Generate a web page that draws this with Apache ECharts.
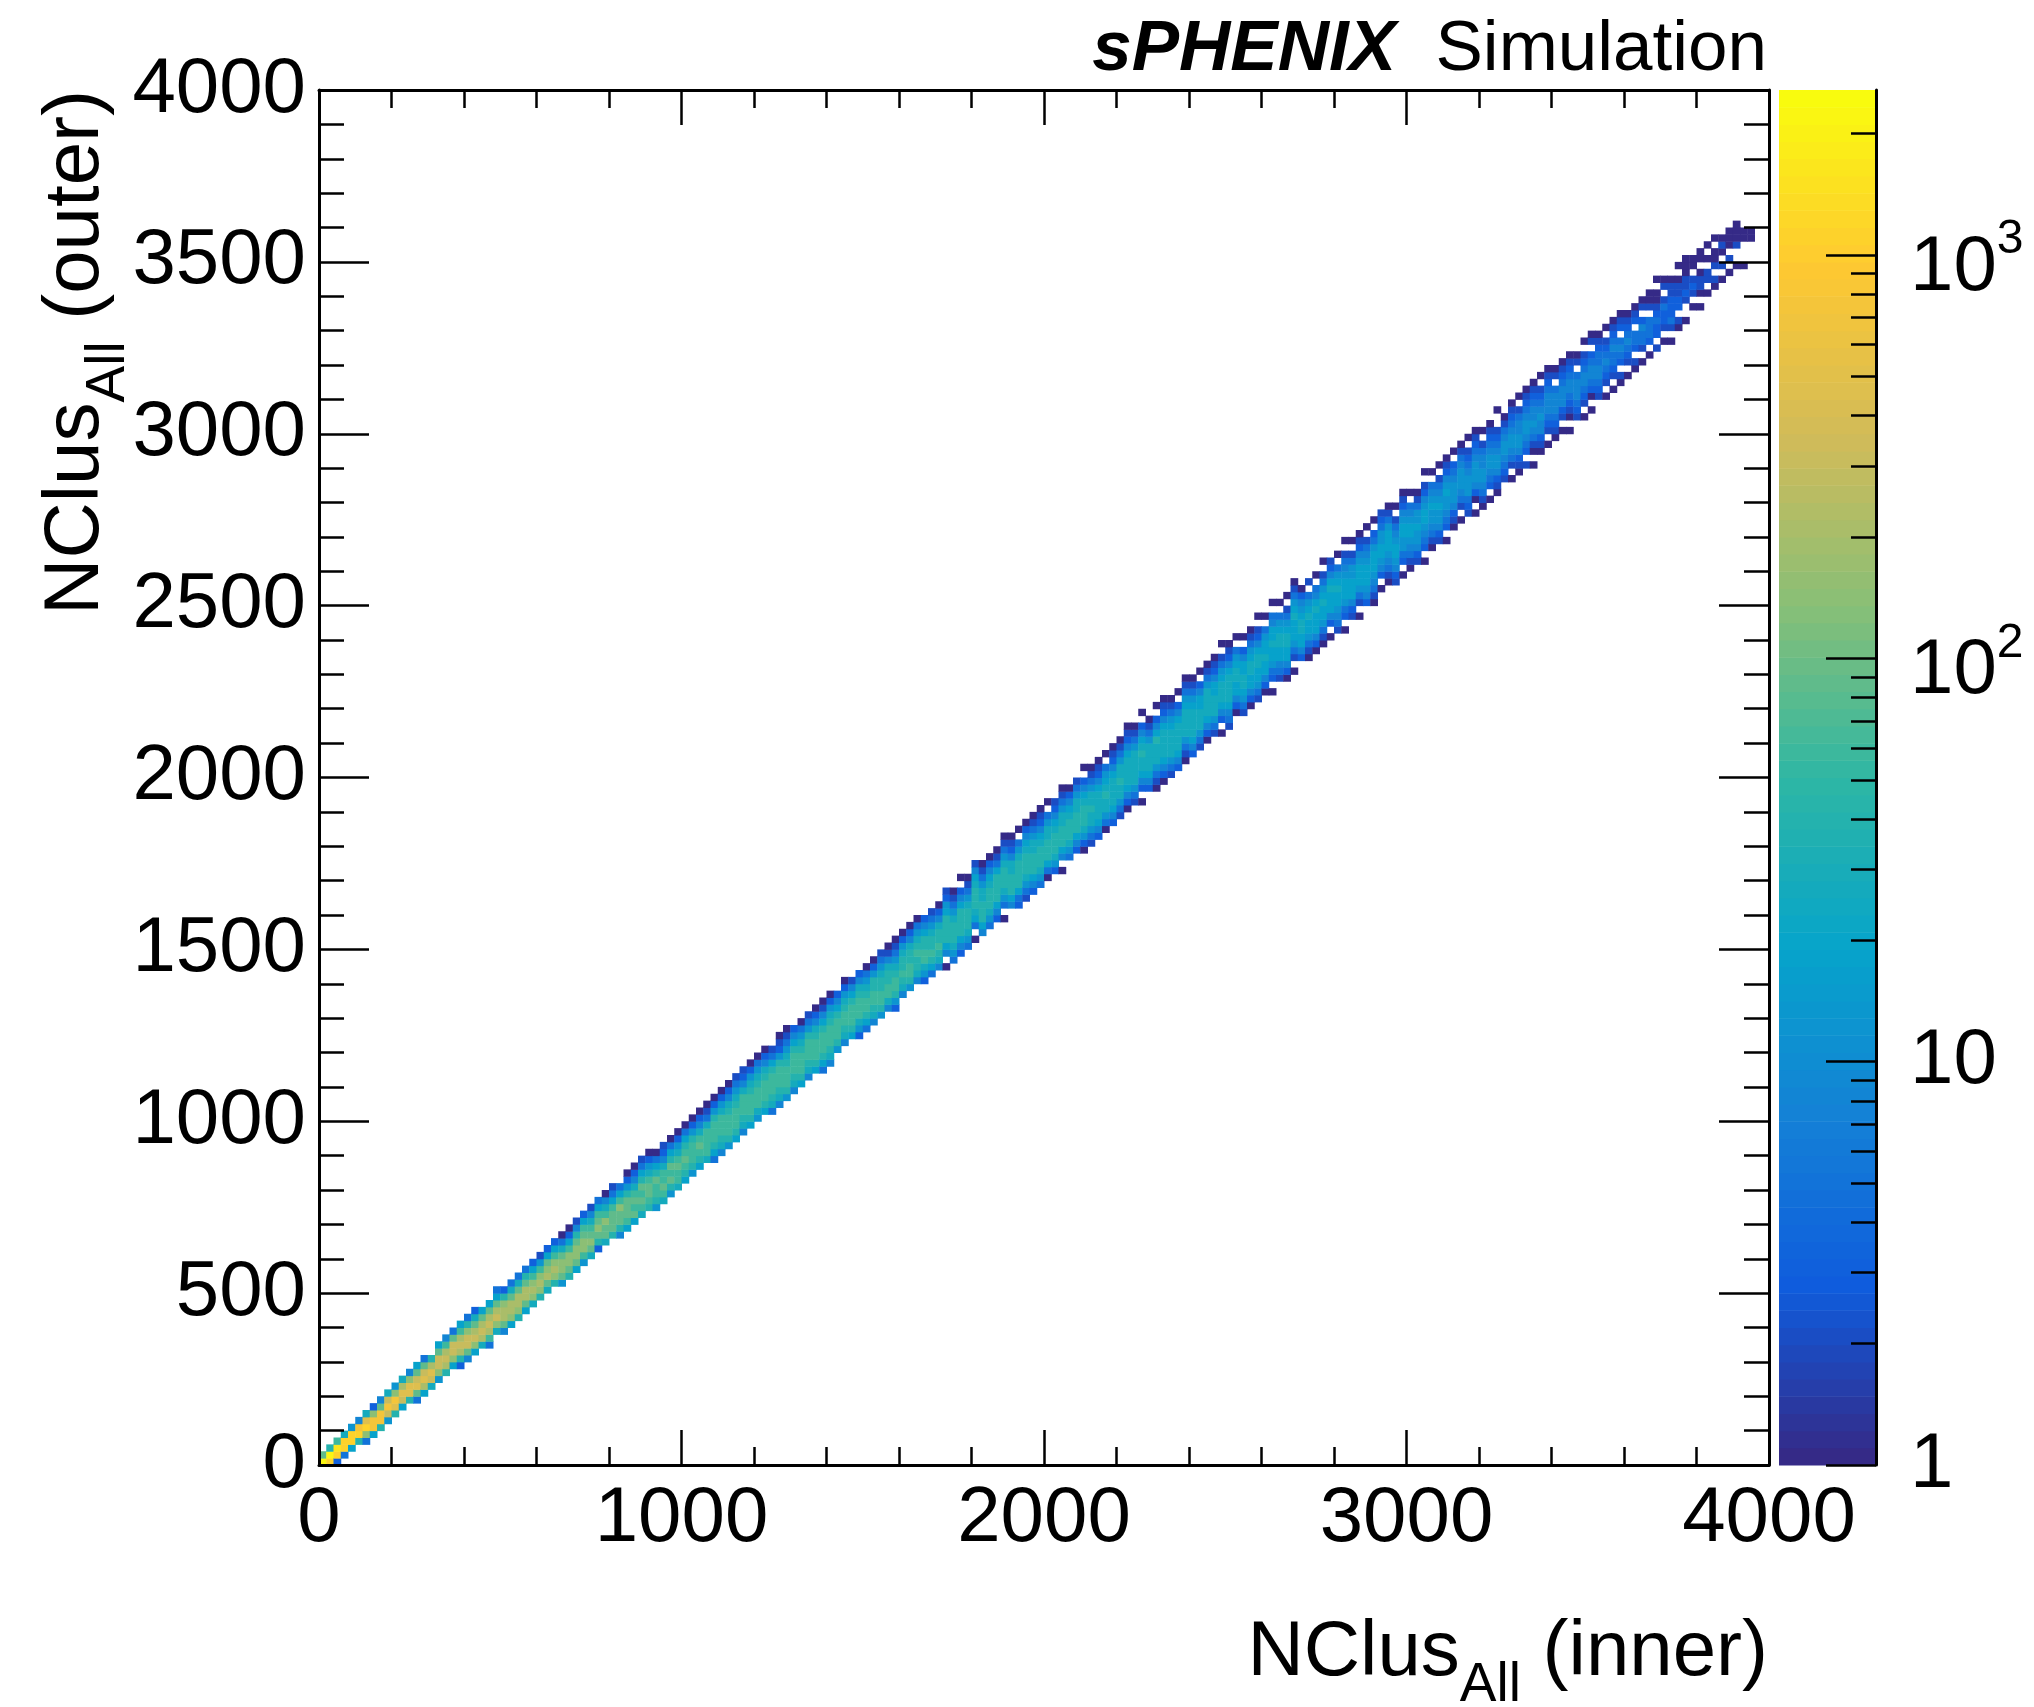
<!DOCTYPE html>
<html>
<head>
<meta charset="utf-8">
<script src="https://cdn.jsdelivr.net/npm/echarts@6/dist/echarts.min.js"></script>
<style>
html, body { margin: 0; padding: 0; background: #fff; }
#chart { width: 2034px; height: 1707px; }
</style>
</head>
<body>
<div id="chart"></div>
<script>
// histogram binning (20 clusters per bin, both axes)
var BIN = 20;

// count levels, one character per level in the column strings below
var levelCodes = '0123456789ABCDEFGHI';
var levelCounts = [1, 2, 3, 5, 8, 12, 18, 27, 40, 60, 90, 140, 210, 320, 480, 720, 1100, 1600, 2300];

// z axis (colour) range
var zMin = 1;
var zMax = 2566;

// first filled y-bin of each x-bin column (column i covers x = 20*i .. 20*i+20)
var colStart = [
  0, 0, 0, 1, 2, 3, 3, 4, 5, 6, 7, 8, 9, 9, 10, 11, 12, 13, 14, 14,
  15, 16, 17, 17, 19, 19, 20, 21, 22, 23, 24, 25, 26, 26, 27, 28, 29, 30, 31, 32,
  33, 33, 34, 35, 36, 37, 37, 38, 39, 40, 41, 42, 43, 44, 44, 45, 46, 47, 48, 49,
  50, 51, 51, 52, 53, 54, 55, 56, 57, 57, 58, 60, 61, 62, 62, 63, 64, 65, 66, 66,
  68, 69, 70, 70, 71, 72, 72, 73, 74, 75, 76, 77, 78, 79, 79, 81, 81, 82, 83, 84,
  85, 86, 86, 88, 89, 89, 90, 91, 92, 93, 94, 95, 96, 96, 98, 98, 99, 100, 101, 102,
  103, 104, 105, 106, 106, 107, 109, 109, 110, 111, 112, 112, 114, 114, 115, 117, 117, 118, 119, 120,
  121, 121, 123, 123, 125, 125, 127, 128, 128, 129, 130, 131, 131, 133, 134, 134, 136, 137, 138, 138,
  139, 140, 141, 143, 143, 144, 145, 145, 147, 148, 149, 150, 150, 152, 152, 153, 155, 155, 156, 157,
  158, 159, 160, 161, 162, 163, 163, 165, 166, 168, 168, 170, 171, 172, 173, 174, 174, 178
];

// counts per y-bin going up from colStart ('.' = empty bin)
var colCounts = [
  'IA', 'GI8', '2GH9', '3GG7', '6GG5', '8GF4', '3BGE7', '6FFB2', '8FFA4', '5DFD7',
  '8EFB5', '6DEC7', '8EEB4', '3AEDA6', '6CEDA3', '7DEC8', '5BDDA6', '8CDC94', '6BDDA3', '28CDC96',
  '4ADDB83', '6BDCA72', '7CDCA6', '39CDCA6', '7BDCA63', '4ACCB82', '6BCCA73', '8BCCA73', '6ACCA83', '7BCB962',
  '8BCB951', '7ACBA62', '8BCB962', '5ABBA730', '8ABB9620', '6ABBA841', '59BBA962', '7ABA9741', '28ABA963', '7AAB9740',
  '8AAA9631', '48AAB963', '69AAA8520', '6A9A97420', '79A9A8631', '89AA97520', '5899A8630', '79A997421', '58A9A8630', '799A97520',
  '689A98630', '589998520', '689A97420', '799997310', '3689998520', '4789997520', '5899987420', '6899987531', '4789997421', '6899987520',
  '5799987530', '6899987420', '3789998631', '47899985210', '58999875310', '4789998642', '6899987530', '4789998531', '6899987420', '36899986410',
  '47899987520', '589998642', '4789987520', '689998641', '2579998742', '3689987530', '4789988520', '5899887531', '4799887410', '25899875310',
  '4789887520', '5899887420', '4788987530', '2579988642', '3689887531', '4789887420', '0.4688886521', '35788875310', '2468888642.0', '35788875310',
  '0.3678887641', '46888775310', '35788876420', '24688886310', '0.35788875310', '46888774210', '2368888753.0', '135788876420', '246888775310', '357888764210',
  '0368887753.0', '25788876421', '0.46888775310', '35788876420', '24688877531', '02578887642.0', '135778775310', '246777764210', '0357787653.0', '246777764210',
  '135778775310', '0246777764210', '135777775310', '0.2467787642.0', '24677775310', '01357778642.0', '0246777764210', '135777765310', '2467777642.0', '0135777765310',
  '246777765310', '1357776642.0', '024677775310', '135777664210', '0.2467776531.0', '1346777764210', '0246677653.0', '1356776642.0', '024667765310', '13566776421.0',
  '0246676653.0', '0.2356676643.0', '1346677653.0', '02466776531.0', '0.135666765310', '24667765420', '0135667653.1', '0246667643.0', '01356676531.0', '0.2466676421',
  '1345667653.0', '0.2356665431.0', '1246665531.0', '0.13566654210', '2456665431.0', '01345666532.0', '0.2456655321', '013456665310', '1245665431.0', '0.23556654210',
  '0134566543.0', '12455655310', '0.2345665421.0', '0134556543.0', '1245565431.0', '0.23455654210', '0124555432.0', '0.1345554310', '1235554321.0', '0.02455543210',
  '0134554431.0', '0.2345543210', '0124554321..0', '1234554310', '0.1345543210', '0124554431.0', '1.2345543210', '0.01345443210', '0124454321.0', '0.1234443210',
  '01234443.10', '0.124443210', '0.0123443210', '1234443.10', '0.12344321.0', '0.0234432.10', '1234433210', '0.1234321.0', '0.123343210', '01.2343.210',
  '0.12343210', '01.233.210', '0.13342.10', '0.2333.100', '1.2232100.0', '0.12231.10', '0.13222110', '01.22110.0', '0..1211000', '0.121.00',
  '0.0110.00', '0.11.0.0', '01.100.0', '0.1.010', '0.1.000', '0..1000', '0...00', '00'
];

// colour bar ticks (log10 of z)
var zMajorTicks = [0, 1, 2, 3];
var zMinorTicks = [];
[1, 10, 100, 1000].forEach(function (d) {
  for (var m = 2; m <= 9; m++) {
    if (d * m <= zMax) zMinorTicks.push(Math.log10(d * m));
  }
});

// ROOT kBird palette stops
var birdStops = ['#352a87', '#0f5cdd', '#1481d6', '#06a4ca', '#2eb7a4', '#87bf77', '#d1bb59', '#fec832', '#f9fb0e'];
var NCONT = 80;
var LMAX = Math.log10(zMax);

function hexToRgb(h) {
  return [parseInt(h.substr(1, 2), 16), parseInt(h.substr(3, 2), 16), parseInt(h.substr(5, 2), 16)];
}
function birdColor(t) {
  t = Math.max(0, Math.min(1, t));
  var f = t * (birdStops.length - 1);
  var i = Math.min(Math.floor(f), birdStops.length - 2);
  var u = f - i;
  var a = hexToRgb(birdStops[i]), b = hexToRgb(birdStops[i + 1]);
  var c = [0, 1, 2].map(function (k) { return Math.round(a[k] + (b[k] - a[k]) * u); });
  return 'rgb(' + c.join(',') + ')';
}
function contourColor(k) {
  return birdColor(k / (NCONT - 1));
}
function countColor(n) {
  var k = Math.floor(Math.log10(n) / LMAX * NCONT);
  if (k > NCONT - 1) k = NCONT - 1;
  if (k < 0) k = 0;
  return contourColor(k);
}

// build histogram cells
var cells = [];
for (var i = 0; i < colCounts.length; i++) {
  var s = colCounts[i];
  for (var j = 0; j < s.length; j++) {
    var ch = s.charAt(j);
    if (ch === '.') continue;
    cells.push([i * BIN, (colStart[i] + j) * BIN, levelCounts[levelCodes.indexOf(ch)]]);
  }
}

// colour bar bands
var bands = [];
for (var k = 0; k < NCONT; k++) {
  bands.push([0.5, k * LMAX / NCONT, (k + 1) * LMAX / NCONT, k]);
}

var FONT = 'Liberation Sans, Arial, Helvetica, sans-serif';
var FS = 78;

var lineStyle = { color: '#000', width: 3 };
var tickStyle = { color: '#000', width: 2.5 };
function plain(v) { return String(Math.round(v)); }

var chart = echarts.init(document.getElementById('chart'), null, { renderer: 'canvas' });

var option = {
  animation: false,
  backgroundColor: '#fff',
  grid: [
    { left: 319, top: 90, width: 1450, height: 1375 },
    { left: 1779, top: 90, width: 97, height: 1375 },
    { left: 1779, top: 90, width: 97, height: 1375 }
  ],
  xAxis: [
    {
      gridIndex: 0, type: 'value', position: 'bottom', min: 0, max: 4000, interval: 1000, z: 10,
      axisLine: { show: true, onZero: false, lineStyle: lineStyle },
      axisTick: { show: true, inside: true, length: 35, lineStyle: tickStyle },
      minorTick: { show: true, splitNumber: 5, length: 18, lineStyle: tickStyle },
      axisLabel: { show: true, margin: 15, fontSize: FS, fontFamily: FONT, color: '#000', formatter: plain, showMinLabel: true, showMaxLabel: true },
      splitLine: { show: false }
    },
    {
      gridIndex: 0, type: 'value', position: 'top', min: 0, max: 4000, interval: 1000, z: 10,
      axisLine: { show: true, onZero: false, lineStyle: lineStyle },
      axisTick: { show: true, inside: true, length: 35, lineStyle: tickStyle },
      minorTick: { show: true, splitNumber: 5, length: 18, lineStyle: tickStyle },
      axisLabel: { show: false },
      splitLine: { show: false }
    },
    { gridIndex: 1, type: 'value', min: 0, max: 1, show: false },
    { gridIndex: 2, type: 'value', min: 0, max: 1, show: false }
  ],
  yAxis: [
    {
      gridIndex: 0, type: 'value', position: 'left', min: 0, max: 4000, interval: 500, z: 10,
      axisLine: { show: true, onZero: false, lineStyle: lineStyle },
      axisTick: { show: true, inside: true, length: 50, lineStyle: tickStyle },
      minorTick: { show: true, splitNumber: 5, length: 25, lineStyle: tickStyle },
      axisLabel: { show: true, margin: 13, fontSize: FS, fontFamily: FONT, color: '#000', formatter: plain, padding: [8, 0, 0, 0], showMinLabel: true, showMaxLabel: true },
      splitLine: { show: false }
    },
    {
      gridIndex: 0, type: 'value', position: 'right', min: 0, max: 4000, interval: 500, z: 10,
      axisLine: { show: true, onZero: false, lineStyle: lineStyle },
      axisTick: { show: true, inside: true, length: 50, lineStyle: tickStyle },
      minorTick: { show: true, splitNumber: 5, length: 25, lineStyle: tickStyle },
      axisLabel: { show: false },
      splitLine: { show: false }
    },
    {
      // colour bar: axis line, major ticks and labels
      gridIndex: 1, type: 'value', position: 'right', min: 0, max: LMAX, z: 10,
      axisLine: { show: true, onZero: false, lineStyle: lineStyle },
      axisTick: { show: true, inside: true, length: 50, lineStyle: tickStyle, customValues: zMajorTicks },
      axisLabel: {
        show: true, margin: 34, fontSize: FS, fontFamily: FONT, color: '#000',
        customValues: zMajorTicks,
        formatter: function (v) {
          v = Math.round(v);
          if (v === 0) return '1';
          if (v === 1) return '10';
          return '{m|10}{s|' + v + '}';
        },
        rich: {
          m: { fontSize: FS, fontFamily: FONT, color: '#000', padding: [26, 0, 0, 0] },
          s: { fontSize: 48, fontFamily: FONT, color: '#000', padding: [0, 0, 30, 0] }
        }
      },
      splitLine: { show: false }
    },
    {
      // colour bar: minor ticks
      gridIndex: 2, type: 'value', position: 'right', min: 0, max: LMAX, z: 10,
      axisLine: { show: false, onZero: false },
      axisTick: { show: true, inside: true, length: 25, lineStyle: tickStyle, customValues: zMinorTicks },
      axisLabel: { show: false },
      splitLine: { show: false }
    }
  ],
  graphic: [
    {
      type: 'text', x: 1767, y: 50, z: 20,
      style: {
        text: '{b|sPHENIX}  {r|Simulation}',
        align: 'right', textAlign: 'right', verticalAlign: 'middle', textVerticalAlign: 'middle',
        fill: '#000', fontSize: 71, fontFamily: FONT,
        rich: {
          b: { fontSize: 71, fontFamily: FONT, fontWeight: 'bold', fontStyle: 'italic', fill: '#000' },
          r: { fontSize: 71, fontFamily: FONT, fill: '#000' }
        }
      }
    },
    {
      type: 'text', x: 1768, y: 1653, z: 20,
      style: {
        text: 'NClus{s|All} (inner)',
        align: 'right', textAlign: 'right', verticalAlign: 'middle', textVerticalAlign: 'middle',
        fill: '#000', fontSize: FS, fontFamily: FONT,
        rich: { s: { fontSize: 55, fontFamily: FONT, fill: '#000', padding: [66, 0, 0, 0] } }
      }
    },
    {
      type: 'text', x: 76, y: 90, rotation: Math.PI / 2, z: 20,
      style: {
        text: 'NClus{s|All} (outer)',
        align: 'right', textAlign: 'right', verticalAlign: 'middle', textVerticalAlign: 'middle',
        fill: '#000', fontSize: FS, fontFamily: FONT,
        rich: { s: { fontSize: 55, fontFamily: FONT, fill: '#000', padding: [66, 0, 0, 0] } }
      }
    }
  ],
  series: [
    {
      type: 'custom',
      xAxisIndex: 0,
      yAxisIndex: 0,
      z: 2,
      data: cells,
      renderItem: function (params, api) {
        var x = api.value(0), y = api.value(1), n = api.value(2);
        var p0 = api.coord([x, y + BIN]);
        var p1 = api.coord([x + BIN, y]);
        return {
          type: 'rect',
          shape: { x: p0[0], y: p0[1], width: p1[0] - p0[0] + 0.5, height: p1[1] - p0[1] + 0.5 },
          style: { fill: countColor(n) }
        };
      }
    },
    {
      type: 'custom',
      xAxisIndex: 2,
      yAxisIndex: 2,
      z: 2,
      data: bands,
      renderItem: function (params, api) {
        var lo = api.value(1), hi = api.value(2), k = api.value(3);
        var p0 = api.coord([0, hi]);
        var p1 = api.coord([1, lo]);
        return {
          type: 'rect',
          shape: { x: p0[0], y: p0[1], width: p1[0] - p0[0], height: p1[1] - p0[1] + 0.5 },
          style: { fill: contourColor(k) }
        };
      }
    }
  ]
};

chart.setOption(option);
</script>
</body>
</html>
